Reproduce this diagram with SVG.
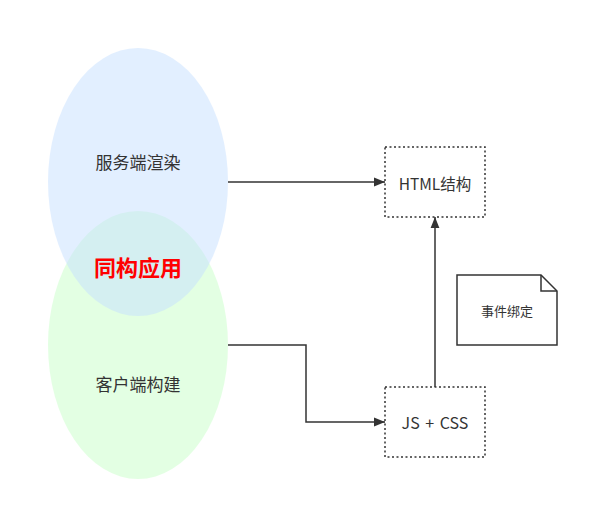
<svg xmlns="http://www.w3.org/2000/svg" width="589" height="511" viewBox="0 0 589 511">
<style>
text{font-family:"Noto Sans CJK SC","Noto Sans",sans-serif;fill:#333;text-anchor:middle;dominant-baseline:central}
.box{fill:#fff;stroke:#333;stroke-width:1.5;stroke-dasharray:2 2.5}
.edge{fill:none;stroke:#333;stroke-width:1.5}
</style>
<defs>
<marker id="arr" viewBox="0 0 10 10" refX="10" refY="5" markerWidth="11" markerHeight="11" markerUnits="userSpaceOnUse" orient="auto">
<path d="M0,1 L10,5 L0,9 Z" fill="#333"/>
</marker>
</defs>
<rect width="589" height="511" fill="#fff"/>
<g id="client">
<ellipse cx="138" cy="345" rx="90" ry="134" fill="#c8ffc8" fill-opacity="0.5"/>
<text x="138" y="383" font-size="17">客户端构建</text>
</g>
<g id="server">
<ellipse cx="138" cy="182" rx="90" ry="134" fill="#c6e0ff" fill-opacity="0.5"/>
<text x="138" y="161" font-size="17">服务端渲染</text>
</g>
<g id="iso">
<text x="138" y="266" font-size="22" font-weight="bold" style="fill:#ff0000">同构应用</text>
</g>
<g id="connectors">
<path class="edge" d="M228,182 H385" marker-end="url(#arr)"/>
<path class="edge" d="M228,345 H306 V422 H385" marker-end="url(#arr)"/>
<path class="edge" d="M435,387 V217" marker-end="url(#arr)"/>
</g>
<g id="html">
<rect class="box" x="385" y="147" width="100" height="70"/>
<text x="435" y="183" font-size="15.5">HTML结构</text>
</g>
<g id="jscss">
<rect class="box" x="385" y="387" width="100" height="70"/>
<text x="435" y="422" font-size="16" word-spacing="2">JS + CSS</text>
</g>
<g id="note">
<path d="M457,275 H541 L557,291 V345 H457 Z" fill="#fff" stroke="#333" stroke-width="1.5"/>
<path d="M541,275 V291 H557" fill="none" stroke="#333" stroke-width="1.5"/>
<text x="507" y="310" font-size="13">事件绑定</text>
</g>
</svg>
